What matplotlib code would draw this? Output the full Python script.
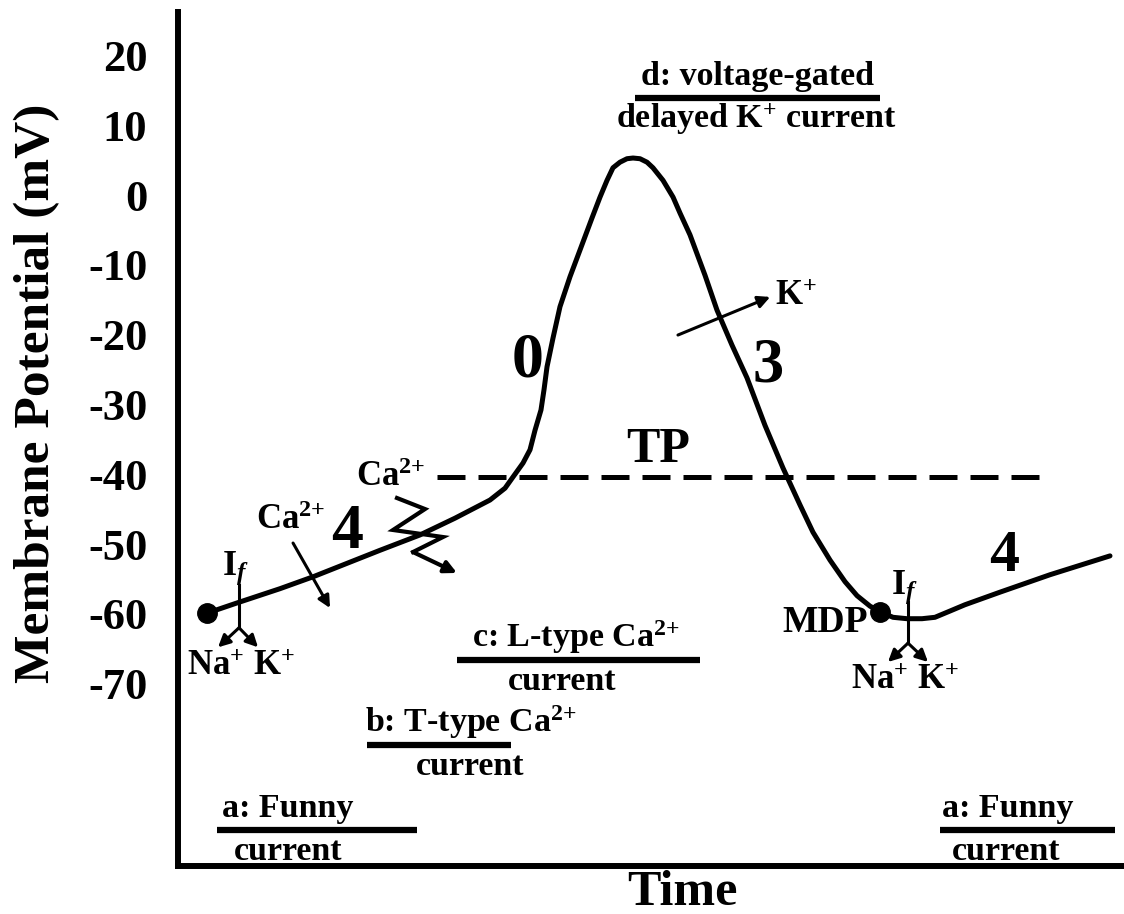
import matplotlib
matplotlib.use('Agg')
import matplotlib.pyplot as plt

# pacemaker (SA node) action potential, time in arbitrary units, voltage in mV
time = [3.07, 6.55, 10.78, 14.27, 18.18, 21.35, 25.58, 29.28, 32.98, 34.57,
        35.41, 36.47, 37.21, 37.74, 38.37, 38.69, 39.01, 39.64, 40.38, 41.44,
        42.49, 43.76, 44.61, 45.35, 45.98, 46.72, 47.46, 48.10, 48.84, 49.58,
        50.21, 51.27, 52.33, 53.07, 54.12, 55.71, 56.98, 58.56, 60.15, 62.05,
        63.95, 65.75, 67.12, 68.92, 70.51, 71.78, 73.15, 74.21, 75.58, 77.06,
        78.65, 80.02, 81.61, 83.19, 86.89, 92.18, 98.52]
voltage = [-59.9, -58.3, -56.4, -54.7, -52.6, -50.9, -48.7, -46.3, -43.7, -42.0,
           -40.4, -38.4, -36.5, -33.7, -30.8, -27.9, -24.6, -20.5, -16.0, -11.7,
           -7.9, -3.3, -0.3, 2.1, 3.9, 4.7, 5.2, 5.3, 5.2, 4.7,
           3.9, 2.1, -0.3, -2.6, -5.7, -11.5, -16.5, -21.5, -26.2, -33.0,
           -39.1, -44.4, -48.3, -52.3, -55.4, -57.4, -58.9, -59.7, -60.5, -60.7,
           -60.7, -60.5, -59.6, -58.7, -56.9, -54.4, -51.7]
mdp_index = 47
threshold = -40.4

yticks = [20, 10, 0, -10, -20, -30, -40, -50, -60, -70]

# current labels: top line, bottom line, their centres, bar start/end/level
cur_top = ["a: Funny", "b: T-type Ca$^{2{+}}$", "c: L-type Ca$^{2{+}}$",
           "d: voltage-gated", "a: Funny"]
cur_bottom = ["current", "current", "current", "delayed K$^{+}$ current",
              "current"]
cur_top_t = [11.6, 30.9, 42.1, 61.3, 87.7]
cur_bottom_t = [11.6, 30.9, 40.6, 61.1, 87.5]
bar_start = [4.1, 20.0, 29.5, 48.3, 80.5]
bar_end = [25.3, 35.2, 55.2, 74.2, 99.0]
bar_level = [-91.0, -78.8, -66.6, 13.9, -91.0]

plt.rcParams['font.family'] = ['Liberation Serif', 'DejaVu Serif']
plt.rcParams['font.weight'] = 'bold'
plt.rcParams['mathtext.fontset'] = 'custom'
plt.rcParams['mathtext.rm'] = 'Liberation Serif:bold'
plt.rcParams['mathtext.it'] = 'Liberation Serif:bold:italic'
plt.rcParams['mathtext.bf'] = 'Liberation Serif:bold'

fig = plt.figure(figsize=(11.24, 9.14), dpi=100)
ax = fig.add_axes([178 / 1124, 48 / 914, 946 / 1124, 854 / 914])
ax.set_xlim(0, 100)
ax.set_ylim(-96.13, 26.22)

for s in ['top', 'right']:
    ax.spines[s].set_visible(False)
for s in ['left', 'bottom']:
    ax.spines[s].set_linewidth(4.3)
ax.set_xticks([])
ax.set_yticks(yticks)
ax.set_yticklabels([str(v) for v in yticks], fontsize=32, fontweight='bold')
ax.tick_params(axis='y', length=0, pad=22)

# trace
ax.plot(time, voltage, color='black', lw=3.6, solid_capstyle='round',
        solid_joinstyle='round', zorder=3)
ax.plot([time[0], time[mdp_index]], [voltage[0], voltage[mdp_index]], 'o',
        color='black', ms=14, zorder=4)

# threshold potential
ax.plot([27.4, 91.4], [threshold, threshold], color='black', lw=3.6,
        ls=(0, (5.6, 2.6)), zorder=2)
ax.text(50.74, -36.5, "TP", fontsize=36, ha='center', va='center')

# phase numbers
ax.text(36.9, -23.9, "0", fontsize=46, ha='center', va='center')
ax.text(62.4, -24.5, "3", fontsize=45, ha='center', va='center')
ax.text(17.9, -48.4, "4", fontsize=46, ha='center', va='center')
ax.text(87.3, -51.9, "4", fontsize=43, ha='center', va='center')

arrow = dict(arrowstyle='-|>', color='black', lw=2.2, mutation_scale=18,
             shrinkA=0, shrinkB=0)

# K+ efflux during repolarisation
ax.annotate("", xy=(62.6, -14.6), xytext=(52.85, -20.06), arrowprops=arrow)
ax.text(63.1, -14.5, "K$^{+}$", fontsize=25, ha='left', va='center')

# T-type Ca2+ influx
ax.text(11.95, -46.7, "Ca$^{2{+}}$", fontsize=25, ha='center', va='center')
ax.annotate("", xy=(16.07, -59.17), xytext=(12.16, -49.86), arrowprops=arrow)

# L-type Ca2+ (zigzag)
ax.text(22.5, -40.5, "Ca$^{2{+}}$", fontsize=25, ha='center', va='center')
zig_t = [23.15, 26.11, 22.73, 28.01, 24.84]
zig_v = [-43.41, -44.99, -47.99, -49.0, -51.15]
ax.plot(zig_t, zig_v, color='black', lw=3, solid_joinstyle='miter', zorder=3)
ax.annotate("", xy=(29.49, -54.15), xytext=(24.84, -51.15),
            arrowprops=dict(arrowstyle='-|>', color='black', lw=3,
                            mutation_scale=18, shrinkA=0, shrinkB=0))


def funny_current(tx, top, mid, bottom, left, right, label_t, label_v):
    ax.plot([tx, tx], [top, mid], color='black', lw=2.2, zorder=3)
    ax.annotate("", xy=(left, bottom), xytext=(tx, mid), arrowprops=arrow)
    ax.annotate("", xy=(right, bottom), xytext=(tx, mid), arrowprops=arrow)
    ax.text(label_t, label_v, "I$_{f}$", fontsize=26, ha='left', va='baseline')


funny_current(6.45, -55.9, -62.0, -64.8, 4.23, 8.46, 4.7, -54.4)
ax.text(6.66, -67.6, "Na$^{+}$ K$^{+}$", fontsize=25, ha='center', va='center')

funny_current(77.17, -58.3, -64.2, -66.9, 75.05, 79.28, 75.4, -57.2)
ax.text(76.85, -69.5, "Na$^{+}$ K$^{+}$", fontsize=25, ha='center', va='center')
ax.text(72.94, -61.2, "MDP", fontsize=27, ha='right', va='center')

# current timing bars
for i in range(len(cur_top)):
    lvl = bar_level[i]
    ax.plot([bar_start[i], bar_end[i]], [lvl, lvl], color='black', lw=4.5,
            solid_capstyle='butt')
    ax.text(cur_top_t[i], lvl + 1.9, cur_top[i], fontsize=24.5, ha='center',
            va='baseline')
    ax.text(cur_bottom_t[i], lvl - 4.3, cur_bottom[i], fontsize=24.5,
            ha='center', va='baseline')

fig.text(682 / 1124, 1 - 905 / 914, "Time", fontsize=36, ha='center',
         va='baseline')
fig.text(37.5 / 1124, 1 - 393.5 / 914, "Membrane Potential (mV)", fontsize=37,
         rotation=90, ha='center', va='center')

fig.savefig('out.png', dpi=100)
